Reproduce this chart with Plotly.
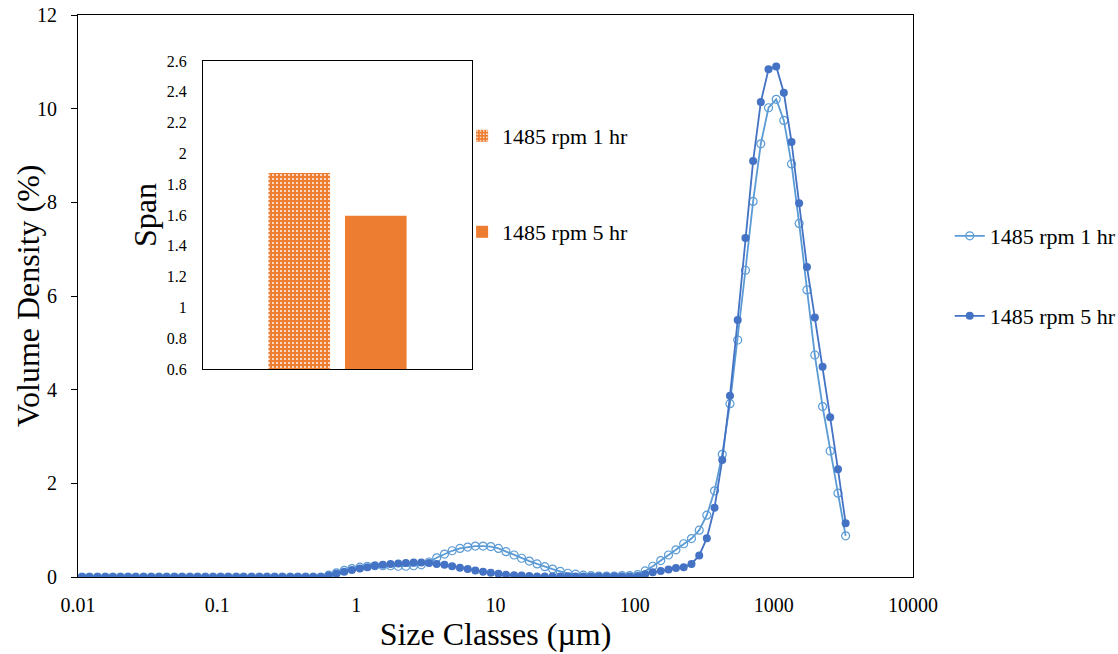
import plotly.graph_objects as go

# ---- data ----
size_classes = [
    0.0107, 0.0121, 0.0138, 0.0157, 0.0178, 0.0202, 0.0229, 0.0260, 0.0296, 0.0336,
    0.0382, 0.0434, 0.0493, 0.0560, 0.0637, 0.0723, 0.0822, 0.0934, 0.106, 0.120,
    0.137, 0.155, 0.177, 0.201, 0.228, 0.259, 0.294, 0.335, 0.380, 0.432,
    0.490, 0.557, 0.633, 0.720, 0.818, 0.929, 1.06, 1.20, 1.36, 1.55,
    1.76, 2.00, 2.27, 2.58, 2.93, 3.33, 3.78, 4.30, 4.88, 5.55,
    6.31, 7.16, 8.14, 9.25, 10.5, 11.9, 13.6, 15.4, 17.5, 19.9,
    22.6, 25.7, 29.2, 33.1, 37.6, 42.7, 48.6, 55.2, 62.8, 71.3,
    81.0, 92.1, 105, 119, 135, 154, 175, 198, 225, 256,
    291, 330, 375, 426, 484, 550, 625, 710, 806, 916,
    1040, 1180, 1340, 1520, 1730, 1970, 2240, 2540, 2890, 3280,
]

density_1hr = [0.0] * 32 + [
    0.04, 0.09, 0.14, 0.18, 0.21, 0.23, 0.24, 0.24,
    0.24, 0.23, 0.23, 0.24, 0.26, 0.32, 0.41, 0.49, 0.56, 0.61,
    0.64, 0.66, 0.66, 0.65, 0.61, 0.54, 0.47, 0.40, 0.34, 0.28,
    0.22, 0.17, 0.12, 0.08, 0.06, 0.04, 0.03, 0.02, 0.02, 0.02,
    0.03, 0.03, 0.05, 0.13, 0.23, 0.35, 0.47, 0.58, 0.71, 0.82,
    1.00, 1.32, 1.84, 2.62, 3.70, 5.06, 6.55, 8.02, 9.25, 10.02,
    10.20, 9.75, 8.82, 7.55, 6.13, 4.74, 3.64, 2.69, 1.79, 0.88,
]

density_5hr = [0.0] * 32 + [
    0.03, 0.07, 0.11, 0.15, 0.18, 0.21, 0.24, 0.26,
    0.28, 0.29, 0.30, 0.31, 0.31, 0.30, 0.28, 0.26, 0.23, 0.20,
    0.17, 0.14, 0.11, 0.09, 0.07, 0.05, 0.04, 0.03, 0.02, 0.01,
    0.01, 0.01, 0.01, 0.01, 0.01, 0.01, 0.01, 0.01, 0.01, 0.01,
    0.01, 0.01, 0.02, 0.06, 0.10, 0.13, 0.16, 0.19, 0.21, 0.28,
    0.46, 0.83, 1.48, 2.50, 3.87, 5.49, 7.24, 8.88, 10.14, 10.84,
    10.90, 10.34, 9.29, 7.98, 6.62, 5.54, 4.49, 3.41, 2.30, 1.15,
]

assert len(size_classes) == len(density_1hr) == len(density_5hr) == 100

series_names = ["1485 rpm 1 hr", "1485 rpm 5 hr"]
span_values = [1.873, 1.595]
span_category = [""]

x_tick_vals = [0.01, 0.1, 1, 10, 100, 1000, 10000]
x_tick_text = ["0.01", "0.1", "1", "10", "100", "1000", "10000"]

y_title = "Volume Density (%)"
x_title = "Size Classes (µm)"
span_title = "Span"

# ---- style ----
FONT = "Liberation Serif"
C_1HR = "#5B9BD5"
C_5HR = "#4472C4"
C_BAR = "#ED7D31"

fig = go.Figure()

fig.add_trace(go.Scatter(
    x=size_classes, y=density_1hr, name=series_names[0], mode="lines+markers",
    line=dict(color=C_1HR, width=1.8),
    marker=dict(symbol="circle-open", size=8, color=C_1HR, line=dict(width=1.2)),
    legend="legend", showlegend=True, xaxis="x", yaxis="y",
))
fig.add_trace(go.Scatter(
    x=size_classes, y=density_5hr, name=series_names[1], mode="lines+markers",
    line=dict(color=C_5HR, width=1.8),
    marker=dict(symbol="circle", size=8, color=C_5HR),
    legend="legend2", showlegend=True, xaxis="x", yaxis="y",
))

fig.add_trace(go.Bar(
    x=span_category, y=[span_values[0]], name=series_names[0],
    marker=dict(color=C_BAR, line=dict(width=0),
                pattern=dict(shape=".", bgcolor=C_BAR, fgcolor="white",
                             size=4, solidity=0.18, fillmode="replace")),
    legend="legend3", showlegend=True, xaxis="x2", yaxis="y2",
))
fig.add_trace(go.Bar(
    x=span_category, y=[span_values[1]], name=series_names[1],
    marker=dict(color=C_BAR, line=dict(width=0)),
    legend="legend4", showlegend=True, xaxis="x2", yaxis="y2",
))

def legend_style(size):
    return dict(font=dict(family=FONT, size=size, color="black"),
                bgcolor="rgba(0,0,0,0)", borderwidth=0,
                xanchor="left", yanchor="middle")

fig.update_layout(
    width=1118, height=654,
    margin=dict(l=78, r=205, t=15, b=77, autoexpand=False),
    showlegend=True,
    paper_bgcolor="white", plot_bgcolor="white",
    font=dict(family=FONT, color="black"),
    barmode="group", bargap=0.431, bargroupgap=0.195,
    xaxis=dict(
        type="log", range=[-2, 4], tickvals=x_tick_vals, ticktext=x_tick_text,
        showgrid=False, zeroline=False, showline=True, linecolor="black",
        linewidth=1, mirror=True, ticks="", ticklabelstandoff=10, automargin=False,
        ticklabeloverflow="allow",
        tickfont=dict(family=FONT, size=20, color="black"),
        title=dict(text=x_title, font=dict(family=FONT, size=32, color="black"),
                   standoff=2),
    ),
    yaxis=dict(
        range=[0, 12], dtick=2, showgrid=False, zeroline=False, showline=True,
        linecolor="black", linewidth=1, mirror=True, ticks="outside", ticklen=6,
        tickcolor="black", ticklabelstandoff=10, automargin=False,
        ticklabeloverflow="allow",
        tickfont=dict(family=FONT, size=20, color="black"),
    ),
    xaxis2=dict(
        domain=[0.1497, 0.4719], anchor="y2", type="category", automargin=False,
        showticklabels=False, ticks="", showgrid=False, zeroline=False,
        showline=True, linecolor="black", linewidth=1, mirror=True,
    ),
    yaxis2=dict(
        domain=[0.3701, 0.9181], anchor="x2", range=[0.6, 2.6], dtick=0.2,
        showgrid=False, zeroline=False, showline=True, linecolor="black",
        linewidth=1, mirror=True, ticks="", ticklabelstandoff=12, automargin=False,
        tickfont=dict(family=FONT, size=16, color="black"),
        title=dict(text=span_title, font=dict(family=FONT, size=32, color="black"),
                   standoff=0),
    ),
    legend=dict(x=1.044, y=0.6068, **legend_style(22)),
    legend2=dict(x=1.044, y=0.4644, **legend_style(22)),
    legend3=dict(x=0.46, y=0.7847, **legend_style(22)),
    legend4=dict(x=0.46, y=0.6139, **legend_style(22)),
    annotations=[dict(
        text=y_title, textangle=-90, xref="paper", yref="paper",
        x=-0.0599, y=0.5, xanchor="center", yanchor="middle", showarrow=False,
        font=dict(family=FONT, size=32, color="black"),
    )],
)

# remove the default 8px page margin so the figure fills the window exactly
fig.write_html("out.html", config={"displayModeBar": False},
               post_script="document.body.style.margin='0';")
